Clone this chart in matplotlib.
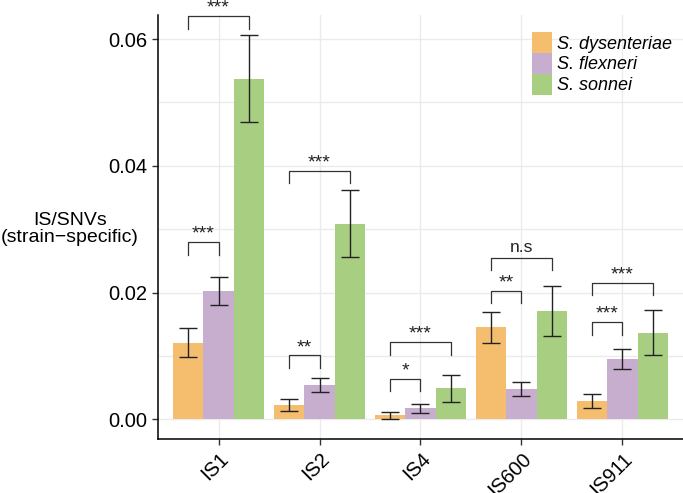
import numpy as np
import matplotlib.pyplot as plt

plt.rcParams['font.family'] = ['Liberation Sans', 'DejaVu Sans']

# data
elements = ['IS1', 'IS2', 'IS4', 'IS600', 'IS911']
species = ['S. dysenteriae', 'S. flexneri', 'S. sonnei']
colors = ['#F5BE6E', '#C7AECE', '#A8CE82']

mean_dys = [0.0121, 0.00226, 0.00063, 0.01452, 0.00289]
mean_flx = [0.02025, 0.00541, 0.00178, 0.00474, 0.00957]
mean_son = [0.05377, 0.03083, 0.00489, 0.0171, 0.01367]
err_dys = [0.00225, 0.00097, 0.00053, 0.00243, 0.00111]
err_flx = [0.00227, 0.00116, 0.00072, 0.00108, 0.00158]
err_son = [0.00692, 0.00529, 0.00216, 0.00397, 0.00358]

# significance brackets: (group, bar a, bar b, bracket height, label)
brackets = [
    (0, 0, 1, 0.02794, '***'),
    (0, 0, 2, 0.0636, '***'),
    (1, 0, 1, 0.0101, '**'),
    (1, 0, 2, 0.0392, '***'),
    (2, 0, 1, 0.00641, '*'),
    (2, 0, 2, 0.01216, '***'),
    (3, 0, 1, 0.02025, '**'),
    (3, 0, 2, 0.02551, 'n.s'),
    (4, 0, 1, 0.01531, '***'),
    (4, 0, 2, 0.02157, '***'),
]
leg_len = 0.00195

fig = plt.figure(figsize=(6.83, 4.93), dpi=100)
ax = fig.add_axes([0.2313, 0.1095, 0.7687, 0.8601])

x = np.arange(1, len(elements) + 1)
w = 0.3
means = [mean_dys, mean_flx, mean_son]
errs = [err_dys, err_flx, err_son]
offsets = [-w, 0, w]
for m, e, c, off, lab in zip(means, errs, colors, offsets, species):
    ax.bar(x + off, m, width=w, color=c, label=lab, zorder=2)
    ax.errorbar(x + off, m, yerr=e, fmt='none', ecolor='#222222',
                elinewidth=1.0, capsize=6.5, capthick=1.0, zorder=3)

for g, a, b, h, txt in brackets:
    xa = x[g] + offsets[a]
    xb = x[g] + offsets[b]
    ax.plot([xa, xa, xb, xb], [h - leg_len, h, h, h - leg_len],
            color='#333333', lw=0.9, zorder=4)
    if txt == 'n.s':
        ax.text((xa + xb) / 2, h + 0.0004, txt, ha='center', va='bottom',
                fontsize=12.5, color='#222222')
    else:
        ax.text((xa + xb) / 2, h - 0.0001, txt, ha='center', va='bottom',
                fontsize=14, color='#222222')

ax.set_xlim(0.4, 5.6)
ax.set_ylim(-0.0031, 0.0638)
ax.set_xticks(x)
ax.set_xticklabels(elements, rotation=45, ha='right', rotation_mode='anchor',
                   fontsize=14.5)
ax.set_yticks([0, 0.02, 0.04, 0.06])
ax.set_yticklabels(['0.00', '0.02', '0.04', '0.06'], fontsize=14.5)
ax.set_yticks([0.01, 0.03, 0.05], minor=True)
ax.tick_params(axis='y', which='minor', length=0)
ax.tick_params(axis='both', which='major', length=4, width=1, color='#333333')
ax.grid(True, which='both', color='#EBEBEB', lw=1.0, zorder=0)
ax.set_axisbelow(True)

for s in ['top', 'right']:
    ax.spines[s].set_visible(False)
for s in ['left', 'bottom']:
    ax.spines[s].set_linewidth(1.1)

fig.text(0.102, 0.535, 'IS/SNVs\n(strain\u2212specific)', ha='center',
         va='center', fontsize=14, linespacing=1.0)

leg = ax.legend(loc='upper right', bbox_to_anchor=(1.0, 0.985), frameon=False,
                prop={'style': 'italic', 'size': 13}, handlelength=1.1,
                handleheight=1.4, handletextpad=0.3, labelspacing=0.0,
                borderaxespad=0.2)

fig.savefig('out.png', dpi=100)
